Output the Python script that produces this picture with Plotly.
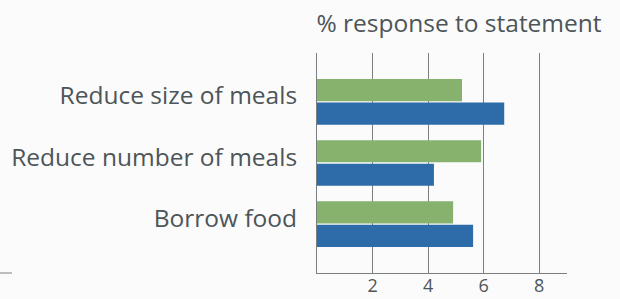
import plotly.graph_objects as go

categories = ["Reduce size of meals", "Reduce number of meals", "Borrow food"]
series_green = [5.22, 5.91, 4.90]
series_blue = [6.74, 4.21, 5.62]
tick_values = [0, 2, 4, 6, 8]
tick_labels = ["", "2", "4", "6", "8"]
title_text = "% response to statement"

text_color = "#4d5558"
grid_color = "#7a7f80"
font_family = "Open Sans, Noto Sans, sans-serif"

fig = go.Figure()
fig.add_trace(go.Bar(y=categories, x=series_green, orientation="h",
                     marker=dict(color="#86B26E", line=dict(width=0)), name="A"))
fig.add_trace(go.Bar(y=categories, x=series_blue, orientation="h",
                     marker=dict(color="#2D6CA9", line=dict(width=0)), name="B"))

fig.update_layout(
    width=620, height=299,
    margin=dict(l=317, r=53, t=53, b=26, autoexpand=False),
    paper_bgcolor="#fbfbfb", plot_bgcolor="rgba(0,0,0,0)",
    barmode="group", bargap=0.23, bargroupgap=0.06,
    showlegend=False,
    font=dict(family=font_family, color=text_color),
    title=dict(text=title_text, x=459/620, xanchor="center", xref="container",
               y=1 - 23/299, yanchor="middle", yref="container",
               font=dict(size=24.5, color=text_color, family=font_family)),
    xaxis=dict(range=[0, 9], tickvals=tick_values, ticktext=tick_labels,
               showgrid=True, gridcolor=grid_color, gridwidth=1, automargin=False,
               zeroline=False, showline=True, linecolor=grid_color, linewidth=1,
               ticks="", ticklabelstandoff=-4, tickfont=dict(size=18, color=text_color)),
    yaxis=dict(range=[2.8, -0.8], type="category", showgrid=False, zeroline=False,
               showline=True, linecolor=grid_color, linewidth=1,
               ticks="", ticklabelstandoff=14, ticklabelshift=6, automargin=False,
               tickfont=dict(size=24.5, color=text_color)),
    shapes=[dict(type="line", xref="paper", yref="paper", x0=-317/250, x1=-305/250,
                 y0=0, y1=0, line=dict(color=grid_color, width=1))],
)

fig.write_html("out.html", config={"displayModeBar": False},
               post_script="document.body.style.margin='0';document.body.style.overflow='hidden';")
